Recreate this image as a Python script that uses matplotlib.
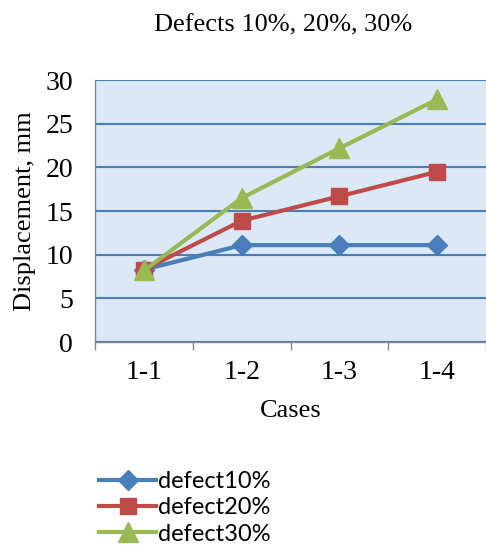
import numpy as np
import matplotlib
matplotlib.use("Agg")
import matplotlib.pyplot as plt
from matplotlib.ticker import FixedLocator

cases = ["1-1", "1-2", "1-3", "1-4"]
defect10 = [8.3, 11.1, 11.1, 11.1]
defect20 = [8.3, 13.9, 16.7, 19.5]
defect30 = [8.2, 16.5, 22.2, 27.8]

plt.rcParams["font.family"] = "Liberation Serif"

fig = plt.figure(figsize=(4.86, 5.49), dpi=100)
ax = fig.add_axes([0.196, 0.377, 0.804, 0.477])
ax.set_facecolor("#dbe8f6")

x = np.arange(len(cases))
ax.plot(x, defect10, color="#4a7ebb", lw=3, marker="D", ms=10, label="defect10%", zorder=3)
ax.plot(x, defect20, color="#be4b48", lw=3, marker="s", ms=12, label="defect20%", zorder=4)
ax.plot(x, defect30, color="#98b954", lw=3, marker="^", ms=15, label="defect30%", zorder=5)

ax.set_xlim(-0.5, 3.5)
ax.set_ylim(0, 30)
ax.set_yticks(np.arange(0, 31, 5))
ax.set_xticks(x)
ax.set_xticklabels(cases)
ax.xaxis.set_minor_locator(FixedLocator([-0.5, 0.5, 1.5, 2.5, 3.5]))
ax.tick_params(axis="x", which="major", length=0, pad=13, labelsize=20)
ax.tick_params(axis="x", which="minor", length=6, color="#868686", width=1)
ax.tick_params(axis="y", length=0, labelsize=20, pad=16)
ax.yaxis.grid(True, color="#4a7ebb", lw=1.5)
ax.set_axisbelow(True)

for s in ["top", "right"]:
    ax.spines[s].set_visible(False)
for s in ["left", "bottom"]:
    ax.spines[s].set_color("#868686")
    ax.spines[s].set_linewidth(1)

ax.set_xlabel("Cases", fontsize=19, labelpad=11)
ax.set_ylabel("Displacement, mm", fontsize=19, labelpad=7)
fig.text(0.583, 0.954, "Defects 10%, 20%, 30%", ha="center", va="center", fontsize=19)

fig.legend(loc="upper left", bbox_to_anchor=(0.185, 0.159), frameon=False,
           prop={"family": "Lato", "size": 17}, handlelength=2.4,
           handletextpad=0.1, labelspacing=0.22, borderaxespad=0)

fig.savefig("out.png", dpi=100)
